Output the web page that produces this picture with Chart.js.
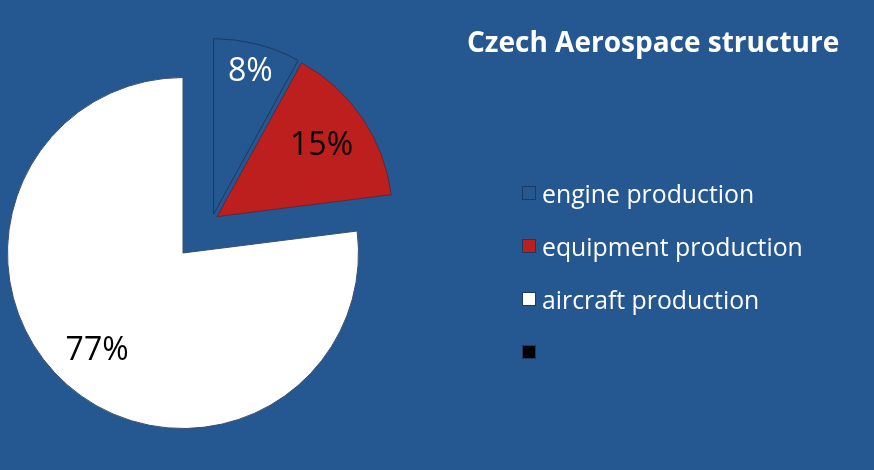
<!DOCTYPE html>
<html>
<head>
<meta charset="utf-8">
<title>Czech Aerospace structure</title>
<script src="https://cdn.jsdelivr.net/npm/chart.js@4.4.1/dist/chart.umd.min.js"></script>
<style>
    html, body { margin: 0; padding: 0; }
    body {
        width: 874px;
        height: 470px;
        background: #255790;
        position: relative;
        overflow: hidden;
        font-family: "Open Sans", sans-serif;
    }
    #myChart { position: absolute; left: 0; top: 0; }
    #title {
        position: absolute;
        left: 467px;
        top: 22px;
        color: #ffffff;
        font-weight: bold;
        font-size: 28px;
        white-space: nowrap;
    }
    #legend {
        position: absolute;
        left: 522px;
        top: 166px;
        margin: 0;
        padding: 0;
        list-style: none;
        color: #ffffff;
        font-size: 24.8px;
    }
    #legend li {
        display: flex;
        align-items: center;
        height: 53px;
        white-space: nowrap;
    }
    #legend span.box {
        display: inline-block;
        width: 12px;
        height: 12px;
        border: 1px solid #1b3a63;
        margin-right: 6px;
    }
</style>
</head>
<body>
<canvas id="myChart" width="874" height="470"></canvas>
<div id="title">Czech Aerospace structure</div>
<ul id="legend"></ul>
<script>
const categories = ["engine production", "equipment production", "aircraft production", ""];
const shares = [8, 15, 77, 0];

const sliceColors = ["#255790", "#bd1f1f", "#ffffff", "#000000"];
const sliceBorders = ["#1b3a63", "#5a2a3a", "#3a4f6e", "#1b3a63"];
const labelColors = ["#ffffff", "#000000", "#000000", "#000000"];
const labelRadius = [0.84, 0.72, 0.74, 0.75];

// the two small slices are pulled out together
const explodeGroup = [0, 1];
const explodeDistance = 44;
const sliceGap = 6;

const explodePlugin = {
    id: "explodeGroup",
    afterDatasetUpdate(chart, args) {
        const arcs = chart.getDatasetMeta(args.index).data;
        const first = arcs[explodeGroup[0]];
        const last = arcs[explodeGroup[explodeGroup.length - 1]];
        const groupMid = (first.startAngle + last.endAngle) / 2;
        explodeGroup.forEach((i) => {
            const arc = arcs[i];
            const ownMid = (arc.startAngle + arc.endAngle) / 2;
            arc.x += Math.cos(groupMid) * explodeDistance + Math.cos(ownMid) * sliceGap;
            arc.y += Math.sin(groupMid) * explodeDistance + Math.sin(ownMid) * sliceGap;
        });
    },
};

const percentLabels = {
    id: "percentLabels",
    afterDatasetsDraw(chart) {
        const ctx = chart.ctx;
        const arcs = chart.getDatasetMeta(0).data;
        const total = shares.reduce((a, b) => a + b, 0);
        ctx.save();
        ctx.font = '32px "Open Sans"';
        ctx.textAlign = "center";
        ctx.textBaseline = "middle";
        arcs.forEach((arc, i) => {
            if (!shares[i]) return;
            const mid = (arc.startAngle + arc.endAngle) / 2;
            const r = arc.outerRadius * labelRadius[i];
            ctx.fillStyle = labelColors[i];
            ctx.fillText(
                Math.round((shares[i] / total) * 100) + "%",
                arc.x + Math.cos(mid) * r,
                arc.y + Math.sin(mid) * r
            );
        });
        ctx.restore();
    },
};

const ctx = document.getElementById("myChart");

new Chart(ctx, {
    type: "pie",
    data: {
        labels: categories,
        datasets: [
            {
                data: shares,
                backgroundColor: sliceColors,
                borderColor: sliceBorders,
                borderWidth: 1,
            },
        ],
    },
    options: {
        responsive: false,
        animation: false,
        events: [],
        layout: {
            padding: { left: 7, right: 515, top: 77, bottom: 41 },
        },
        plugins: {
            legend: { display: false },
            tooltip: { enabled: false },
        },
    },
    plugins: [explodePlugin, percentLabels],
});

const legend = document.getElementById("legend");
categories.forEach((name, i) => {
    const li = document.createElement("li");
    const box = document.createElement("span");
    box.className = "box";
    box.style.background = sliceColors[i];
    li.appendChild(box);
    li.appendChild(document.createTextNode(name));
    legend.appendChild(li);
});
</script>
</body>
</html>
